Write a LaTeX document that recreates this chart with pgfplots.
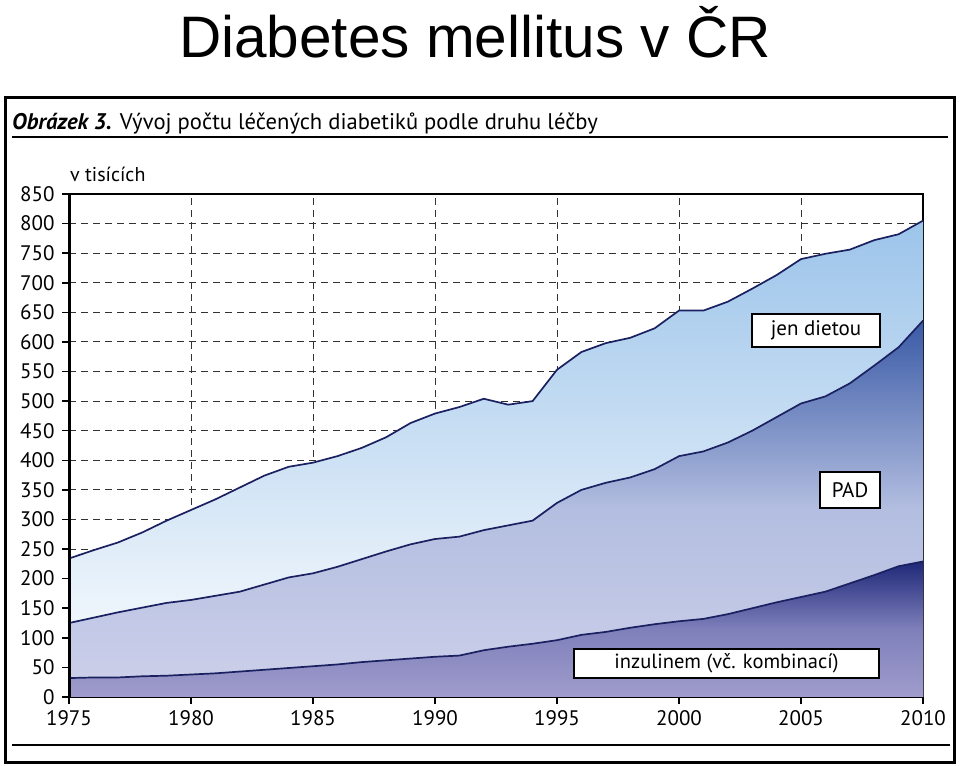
\documentclass[border=0pt]{standalone}
\usepackage{pgfplots}
\pgfplotsset{compat=1.18}
\usepackage{pgfplotstable}
\usepackage{fontspec}
\setmainfont{PT Sans}
\newfontfamily\titlefont{Liberation Sans}

\definecolor{dtop}{HTML}{9CC4EA}
\definecolor{ptop}{HTML}{3A5AA6}
\definecolor{pmid}{HTML}{B3BEE0}
\definecolor{pbot}{HTML}{CDD0EA}
\definecolor{itop}{HTML}{1E2878}
\definecolor{imid}{HTML}{7F80BB}
\definecolor{ibot}{HTML}{A09CCC}
\definecolor{navy}{HTML}{1A2060}
\definecolor{gridc}{HTML}{333333}

\pgfplotstableread{
year ins pad tot
1975 32 125 234
1976 33 134 248
1977 33 143 261
1978 35 151 278
1979 36 159 298
1980 38 164 316
1981 40 171 334
1982 43 178 354
1983 46 190 374
1984 49 202 389
1985 52 209 396
1986 55 220 407
1987 59 233 421
1988 62 246 439
1989 65 258 463
1990 68 267 479
1991 70 271 490
1992 79 282 504
1993 85 290 494
1994 90 298 500
1995 96 328 553
1996 105 350 583
1997 110 362 598
1998 117 371 607
1999 123 385 623
2000 128 407 653
2001 132 415 653
2002 140 430 668
2003 150 450 690
2004 160 473 713
2005 169 496 740
2006 178 508 749
2007 192 530 756
2008 206 560 772
2009 221 591 782
2010 229 636 805
}\data

\begin{document}
\begin{tikzpicture}[x=1pt,y=1pt]
\useasboundingbox (0,0) rectangle (960,765);
% main title
\node[anchor=base, font=\titlefont\fontsize{58.5}{60}\selectfont] at (475,707) {Diabetes mellitus v ČR};
% frame
\draw[line width=3pt] (5,3) rectangle (954,667);
\draw[line width=1.5pt] (12,628) -- (948,628);
\draw[line width=1.2pt] (12,20) -- (950,20);
\node[anchor=base west, inner sep=0pt, font=\fontsize{22.6}{24}\selectfont] at (12,635)
  {\textbf{\textit{Obrázek 3.}} Vývoj počtu léčených diabetiků podle druhu léčby};
\node[anchor=base west, inner sep=0pt, font=\fontsize{20}{22}\selectfont] at (70,583) {v tisících};

\begin{axis}[
  at={(69pt,68pt)}, anchor=south west,
  scale only axis, width=854pt, height=503pt,
  xmin=1975, xmax=2010, ymin=0, ymax=850,
  xtick={1975,1980,...,2010}, ytick={0,50,...,850},
  xmajorgrids, ymajorgrids,
  grid style={gridc, line width=1pt, dash pattern=on 7pt off 5pt},
  axis line style={line width=2pt},
  tick pos=left, tick align=outside,
  major tick length=7pt,
  tick style={black, line width=1.5pt},
  /pgf/number format/1000 sep={},
  /pgf/number format/assume math mode=true,
  ticklabel style={font=\fontsize{21}{21}\selectfont},
  xticklabel style={yshift=-3pt},
  yticklabel style={xshift=-4pt},
]
\addplot[draw=none, top color=dtop, bottom color=white] table[x=year,y=tot]{\data} \closedcycle;
\addplot[draw=none, top color=ptop, bottom color=pbot, middle color=pmid] table[x=year,y=pad]{\data} \closedcycle;
\addplot[draw=none, top color=itop, bottom color=ibot, middle color=imid] table[x=year,y=ins]{\data} \closedcycle;
\addplot[navy, line width=1.7pt] table[x=year,y=tot]{\data};
\addplot[navy, line width=1.7pt] table[x=year,y=pad]{\data};
\addplot[navy, line width=1.7pt] table[x=year,y=ins]{\data};
\end{axis}
\draw[line width=3pt] (69,68) -- (69,571);

\node[draw, fill=white, line width=1.5pt, minimum width=128pt, minimum height=33pt, inner sep=0pt,
  font=\fontsize{21}{23}\selectfont] at (816,434.5) {jen dietou};
\node[draw, fill=white, line width=1.5pt, minimum width=60pt, minimum height=36pt, inner sep=0pt,
  font=\fontsize{21}{23}\selectfont] at (850,275) {PAD};
\node[draw, fill=white, line width=1.5pt, minimum width=305pt, minimum height=29pt, inner sep=0pt,
  font=\fontsize{20.5}{22}\selectfont] at (726.5,101.5) {inzulinem (vč. kombinací)};
\end{tikzpicture}
\end{document}
